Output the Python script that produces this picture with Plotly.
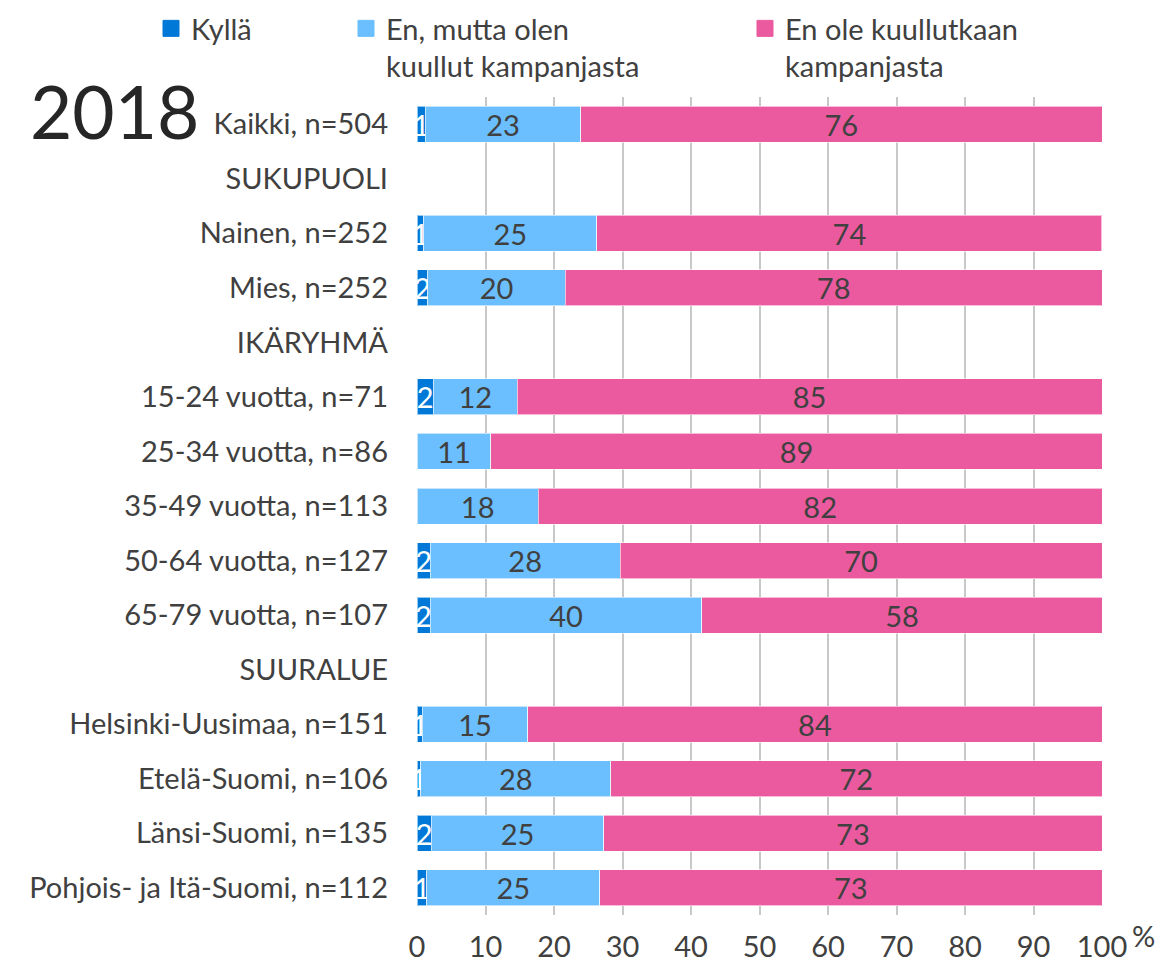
import plotly.graph_objects as go

categories = [
    "Kaikki, n=504", "SUKUPUOLI", "Nainen, n=252", "Mies, n=252", "IKÄRYHMÄ",
    "15-24 vuotta, n=71", "25-34 vuotta, n=86", "35-49 vuotta, n=113",
    "50-64 vuotta, n=127", "65-79 vuotta, n=107", "SUURALUE",
    "Helsinki-Uusimaa, n=151", "Etelä-Suomi, n=106", "Länsi-Suomi, n=135",
    "Pohjois- ja Itä-Suomi, n=112",
]
kylla = [1.2, None, 0.97, 1.55, None, 2.4, None, None, 1.94, 1.9, None, 0.77, 0.58, 2.08, 1.45]
en_mutta = [22.7, None, 25.3, 20.1, None, 12.2, 10.8, 17.7, 27.7, 39.7, None, 15.4, 27.7, 25.2, 25.2]
en_ole = [76.1, None, 73.7, 78.35, None, 85.4, 89.2, 82.3, 70.36, 58.4, None, 83.83, 71.72, 72.72, 73.35]

series_names = ["Kyllä", "En, mutta olen<br>kuullut kampanjasta", "En ole kuullutkaan<br>kampanjasta"]
colors = ["#0078D7", "#6BBFFF", "#EB5A9E"]
text_colors = ["#FFFFFF", "#404040", "#404040"]
legends = ["legend", "legend2", "legend3"]
FONT = "Lato"
GREY = "#404040"
FS = 29

# screen geometry of plot area (page body adds an 8px offset)
PL, PT, PW, PH = 417, 97, 685, 818


def px_x(x):
    return (x - PL) / PW


def px_y(y):
    return 1 - (y - PT) / PH


legend_left_px = [151, 346, 745]

fig = go.Figure()
for name, vals, col, tcol, lg in zip(series_names, [kylla, en_mutta, en_ole], colors, text_colors, legends):
    fig.add_trace(go.Bar(
        y=categories, x=vals, name=name, orientation="h",
        marker=dict(color=col, line=dict(color="rgba(255,255,255,0.6)", width=1)),
        texttemplate="%{x:.0f}", textposition="inside", insidetextanchor="middle",
        textangle=0, constraintext="none",
        textfont=dict(family=FONT, size=FS, color=tcol),
        showlegend=False, hoverinfo="x+name",
    ))
    fig.add_trace(go.Scatter(
        y=[None], x=[None], name=name, mode="markers",
        marker=dict(symbol="square", size=16, color=col, line=dict(color=col, width=1)),
        legend=lg, showlegend=True, hoverinfo="skip",
    ))

leg_common = dict(orientation="v", xanchor="left", yanchor="top",
                  y=px_y(3), bgcolor="rgba(0,0,0,0)", valign="top", itemsizing="trace",
                  font=dict(family=FONT, size=FS, color=GREY), itemclick=False, itemdoubleclick=False)

OFF = 8
fig.update_layout(
    width=1176, height=973,
    margin=dict(l=PL - OFF, r=1176 - (PL - OFF) - PW, t=PT - OFF, b=973 - (PT - OFF) - PH, autoexpand=False),
    barmode="stack", bargap=0.34,
    plot_bgcolor="white", paper_bgcolor="white",
    font=dict(family=FONT, size=FS, color=GREY),
    uniformtext=dict(minsize=FS, mode="show"),
    xaxis=dict(range=[0, 100], dtick=10, showgrid=True, gridcolor="#C8C8C8", gridwidth=1.5,
               zeroline=False, showline=False, ticks="", ticklabelstandoff=12, automargin=False,
               tickfont=dict(family=FONT, size=FS, color=GREY), fixedrange=True),
    yaxis=dict(type="category", categoryorder="array", categoryarray=categories,
               range=[len(categories) - 0.5, -0.5], showgrid=False, ticks="", ticklabelstandoff=28,
               automargin=False, tickfont=dict(family=FONT, size=FS, color=GREY), fixedrange=True),
    legend=dict(x=px_x(legend_left_px[0]), **leg_common),
    legend2=dict(x=px_x(legend_left_px[1]), **leg_common),
    legend3=dict(x=px_x(legend_left_px[2]), **leg_common),
    showlegend=True,
)

fig.add_annotation(text="2018", xref="paper", yref="paper", x=px_x(28), y=px_y(111),
                   xanchor="left", yanchor="middle", showarrow=False,
                   font=dict(family=FONT, size=73, color="#262626"))
fig.add_annotation(text="%", xref="paper", yref="paper", x=px_x(1130), y=px_y(936),
                   xanchor="left", yanchor="middle", showarrow=False,
                   font=dict(family=FONT, size=FS, color=GREY))

fig.write_html("out.html")
